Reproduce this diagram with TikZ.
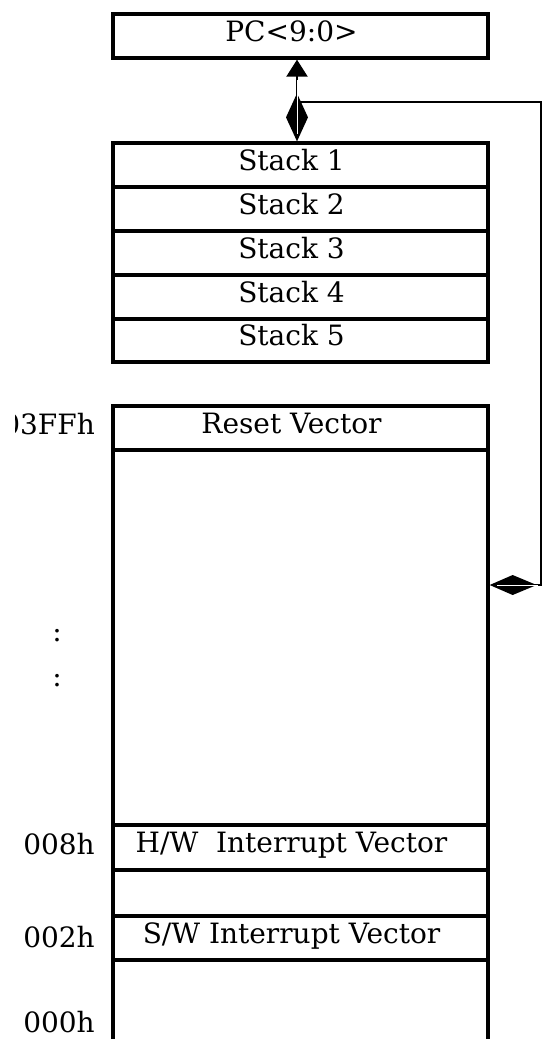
\documentclass[tikz,border=0pt]{standalone}
\usepackage{fontspec}
\setmainfont{DejaVu Serif}
\usetikzlibrary{arrows.meta}
\begin{document}
\begin{tikzpicture}[x=1pt,y=-1pt,
  cell/.style={draw, line width=3.3pt, minimum width=375pt, inner sep=0pt,
    text height=20pt, text depth=10pt, font=\fontsize{28pt}{30pt}\selectfont,
    execute at begin node={\kern-18pt}},
  lab/.style={anchor=base east, inner sep=0pt, font=\fontsize{28pt}{30pt}\selectfont},
  conn/.style={line width=2.2pt},
  gleam/.style={white, line width=0.9pt}]
\useasboundingbox (0,0) rectangle (542,1039);
% PC register
\node[cell, minimum height=44pt] (pc) at (300.5,36) {PC<9:0>};
% stack
\node[cell, minimum height=44pt] (s1) at (300.5,165) {Stack 1};
\node[cell, minimum height=44pt] (s2) at (300.5,209) {Stack 2};
\node[cell, minimum height=44pt] (s3) at (300.5,253) {Stack 3};
\node[cell, minimum height=44pt] (s4) at (300.5,297) {Stack 4};
\node[cell, minimum height=43pt] (s5) at (300.5,340.5) {Stack 5};
% program memory
\node[cell, minimum height=44pt] (reset) at (300.5,428) {Reset Vector};
\node[cell, minimum height=375pt] (main) at (300.5,637.5) {};
\node[cell, minimum height=45pt] (hw) at (300.5,847.5) {H/W\ \ Interrupt Vector};
\node[cell, minimum height=46pt] (gap) at (300.5,893) {};
\node[cell, minimum height=44pt] (sw) at (300.5,938) {S/W Interrupt Vector};
\node[cell, minimum height=90pt] (bot) at (300.5,1005) {};
% address labels
\begin{scope}
\clip (15.5,380) rectangle (105,450);
\node[lab] (a3ff) at (95,434) {03FFh};
\end{scope}
\node[lab] (a008) at (95,854) {008h};
\node[lab] (a002) at (95,947) {002h};
\node[lab] (a000) at (95,1032) {000h};
\node[lab, anchor=base] (dots1) at (57,641) {:};
\node[lab, anchor=base] (dots2) at (57,686) {:};
% connectors
\coordinate (j) at (297,102);
\coordinate (jr) at (541,102);
\coordinate (mr) at (541,585);
\draw[conn, {Kite[length=48pt,width=22pt,inset=24pt]}-{Triangle[length=17pt,width=21pt]}]
  (j |- s1.north) -- (j |- pc.south);
\draw[conn, -{Kite[length=47pt,width=20pt,inset=24pt]}]
  (j) -- (jr) -- (mr) -- (main.east |- mr);
% light centre line of the double connectors
\coordinate (v1) at (297,80);
\coordinate (v2) at (297,134);
\coordinate (h1) at (497,585);
\coordinate (h2) at (538,585);
\draw[gleam] (v1) -- (v2);
\draw[gleam] (h1) -- (h2);
\end{tikzpicture}
\end{document}
